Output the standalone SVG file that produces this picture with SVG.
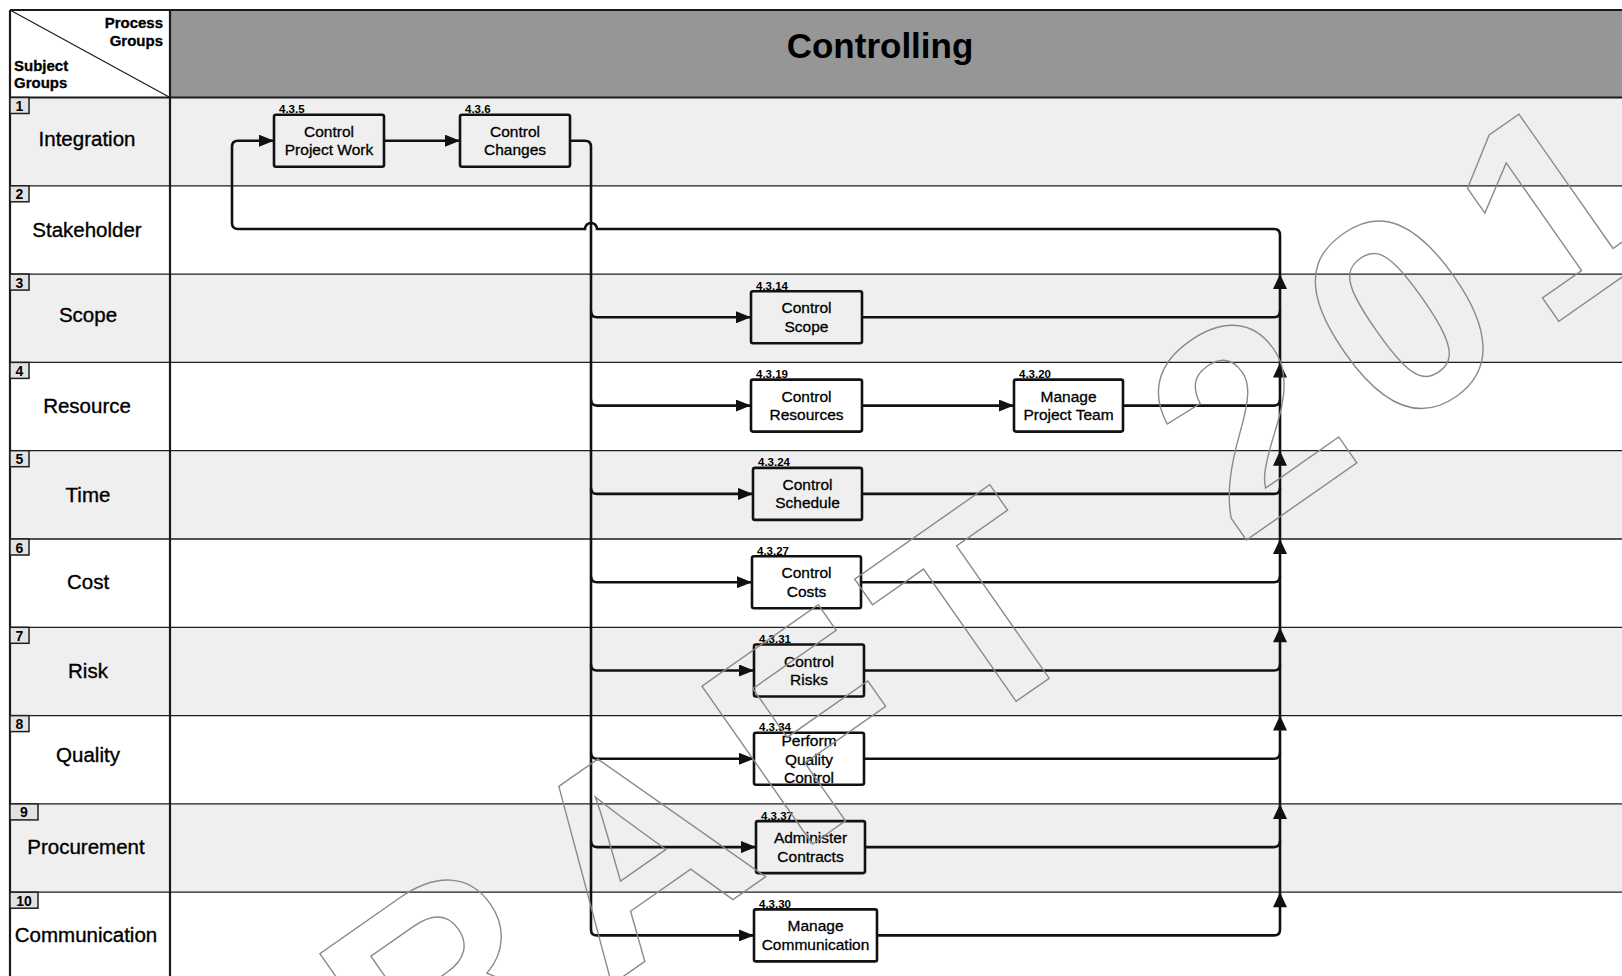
<svg xmlns="http://www.w3.org/2000/svg" width="1622" height="976" viewBox="0 0 1622 976">
<style>
.shade{fill:#efefef}
.grid{stroke:#1e1e1e;stroke-width:1.3;fill:none}
.frame{stroke:#1a1a1a;stroke-width:2.2;fill:none}
.rowlbl{font-family:"Liberation Sans",Arial,sans-serif;font-size:20.5px;fill:#000;stroke:#000;stroke-width:0.35;text-anchor:middle}
.numbox{fill:#e2e2e2;stroke:#1e1e1e;stroke-width:1.5}
.num{font-family:"Liberation Sans",Arial,sans-serif;font-size:14px;font-weight:bold;fill:#000;text-anchor:middle}
.hdr{font-family:"Liberation Sans",Arial,sans-serif;font-size:15px;font-weight:bold;fill:#000;stroke:#000;stroke-width:0.3}
.title{font-family:"Liberation Sans",Arial,sans-serif;font-size:35px;font-weight:bold;fill:#000;text-anchor:middle}
.box{fill:none;stroke:#111;stroke-width:2.6}
.btxt{font-family:"Liberation Sans",Arial,sans-serif;font-size:15.5px;fill:#000;stroke:#000;stroke-width:0.3;text-anchor:middle}
.bid{font-family:"Liberation Sans",Arial,sans-serif;font-size:11.5px;font-weight:bold;fill:#000}
.conn{fill:none;stroke:#111;stroke-width:2.6}
.wm{font-family:"Liberation Sans",Arial,sans-serif;font-size:280px;font-weight:bold;fill:none;stroke:#8a8a8a;stroke-width:1.4;letter-spacing:31px}
</style>
<defs>
<marker id="arr" markerWidth="15" markerHeight="12" refX="15" refY="6" orient="auto" markerUnits="userSpaceOnUse"><path d="M0,0 L15,6 L0,12 Z" fill="#111"/></marker>
<path id="up" d="M0,0 L-7,15 L7,15 Z" fill="#111"/>
</defs>
<rect width="1622" height="976" fill="#fff"/>
<g id="background">
<rect x="170" y="10" width="1452" height="87.5" fill="#969696"/>
<rect class="shade" x="10" y="97.5" width="1612" height="88.3"/>
<rect class="shade" x="10" y="274.1" width="1612" height="88.3"/>
<rect class="shade" x="10" y="450.7" width="1612" height="88.3"/>
<rect class="shade" x="10" y="627.3" width="1612" height="88.3"/>
<rect class="shade" x="10" y="803.9" width="1612" height="88.3"/>
<path class="grid" d="M10,185.8H1622M10,274.1H1622M10,362.4H1622M10,450.7H1622M10,539H1622M10,627.3H1622M10,715.6H1622M10,803.9H1622M10,892.2H1622"/>
<path class="grid" d="M10,10L170,97.5"/>
<path class="frame" d="M10,10H1622M10,97.5H1622M10,10V976M170,10V976"/>
</g>
<g id="header">
<text class="title" x="880" y="58">Controlling</text>
<text class="hdr" x="163" y="28" text-anchor="end">Process</text>
<text class="hdr" x="163" y="46" text-anchor="end">Groups</text>
<text class="hdr" x="14" y="71">Subject</text>
<text class="hdr" x="14" y="88">Groups</text>
</g>
<g id="row-labels">
<rect class="numbox" x="10" y="97.5" width="19" height="16"/><text class="num" x="19.5" y="111">1</text>
<text class="rowlbl" x="87" y="145.7">Integration</text>
<rect class="numbox" x="10" y="185.8" width="19" height="16"/><text class="num" x="19.5" y="199.3">2</text>
<text class="rowlbl" x="87" y="237">Stakeholder</text>
<rect class="numbox" x="10" y="274.1" width="19" height="16"/><text class="num" x="19.5" y="287.6">3</text>
<text class="rowlbl" x="88" y="322.3">Scope</text>
<rect class="numbox" x="10" y="362.4" width="19" height="16"/><text class="num" x="19.5" y="375.9">4</text>
<text class="rowlbl" x="87" y="412.6">Resource</text>
<rect class="numbox" x="10" y="450.7" width="19" height="16"/><text class="num" x="19.5" y="464.2">5</text>
<text class="rowlbl" x="88" y="501.9">Time</text>
<rect class="numbox" x="10" y="539" width="19" height="16"/><text class="num" x="19.5" y="552.5">6</text>
<text class="rowlbl" x="88" y="589.2">Cost</text>
<rect class="numbox" x="10" y="627.3" width="19" height="16"/><text class="num" x="19.5" y="640.8">7</text>
<text class="rowlbl" x="88" y="677.5">Risk</text>
<rect class="numbox" x="10" y="715.6" width="19" height="16"/><text class="num" x="19.5" y="729.1">8</text>
<text class="rowlbl" x="88" y="761.8">Quality</text>
<rect class="numbox" x="10" y="803.9" width="28" height="16"/><text class="num" x="24" y="817.4">9</text>
<text class="rowlbl" x="86" y="854">Procurement</text>
<rect class="numbox" x="10" y="892.2" width="28" height="16"/><text class="num" x="24" y="905.7">10</text>
<text class="rowlbl" x="86" y="942.4">Communication</text>
</g>
<g id="connectors">
<path class="conn" d="M384,140.7H460" marker-end="url(#arr)"/>
<path class="conn" d="M570,140.7H585Q591,140.7 591,146.7V929.4Q591,935.4 597,935.4H754" marker-end="url(#arr)"/>
<path class="conn" d="M591,311.3Q591,317.3 597,317.3H751" marker-end="url(#arr)"/>
<path class="conn" d="M591,399.6Q591,405.6 597,405.6H751" marker-end="url(#arr)"/>
<path class="conn" d="M591,487.9Q591,493.9 597,493.9H753" marker-end="url(#arr)"/>
<path class="conn" d="M591,576.2Q591,582.2 597,582.2H752" marker-end="url(#arr)"/>
<path class="conn" d="M591,664.5Q591,670.5 597,670.5H754" marker-end="url(#arr)"/>
<path class="conn" d="M591,752.8Q591,758.8 597,758.8H754" marker-end="url(#arr)"/>
<path class="conn" d="M591,841.1Q591,847.1 597,847.1H756" marker-end="url(#arr)"/>
<path class="conn" d="M862,405.6H1014" marker-end="url(#arr)"/>
<path class="conn" d="M877,935.4H1274Q1280,935.4 1280,929.4V235Q1280,229 1274,229H597A6,6 0 0 0 585,229H238Q232,229 232,223V146.7Q232,140.7 238,140.7H274" marker-end="url(#arr)"/>
<path class="conn" d="M862,317.3H1274Q1280,317.3 1280,311.3"/>
<path class="conn" d="M1123,405.6H1274Q1280,405.6 1280,399.6"/>
<path class="conn" d="M862,493.9H1274Q1280,493.9 1280,487.9"/>
<path class="conn" d="M861,582.2H1274Q1280,582.2 1280,576.2"/>
<path class="conn" d="M864,670.5H1274Q1280,670.5 1280,664.5"/>
<path class="conn" d="M864,758.8H1274Q1280,758.8 1280,752.8"/>
<path class="conn" d="M865,847.1H1274Q1280,847.1 1280,841.1"/>
<use href="#up" x="1280" y="274.1"/>
<use href="#up" x="1280" y="362.4"/>
<use href="#up" x="1280" y="450.7"/>
<use href="#up" x="1280" y="539"/>
<use href="#up" x="1280" y="627.3"/>
<use href="#up" x="1280" y="715.6"/>
<use href="#up" x="1280" y="803.9"/>
<use href="#up" x="1280" y="892.2"/>
</g>
<g id="n435">
<rect class="box" x="274" y="114.7" width="110" height="52" rx="2"/>
<text class="bid" x="279" y="113.2">4.3.5</text>
<text class="btxt" x="329" y="136.7">Control</text>
<text class="btxt" x="329" y="155.2">Project Work</text>
</g>
<g id="n436">
<rect class="box" x="460" y="114.7" width="110" height="52" rx="2"/>
<text class="bid" x="465" y="113.2">4.3.6</text>
<text class="btxt" x="515" y="136.7">Control</text>
<text class="btxt" x="515" y="155.2">Changes</text>
</g>
<g id="n4314">
<rect class="box" x="751" y="291.3" width="111" height="52" rx="2"/>
<text class="bid" x="756" y="289.8">4.3.14</text>
<text class="btxt" x="806.5" y="313.3">Control</text>
<text class="btxt" x="806.5" y="331.8">Scope</text>
</g>
<g id="n4319">
<rect class="box" x="751" y="379.6" width="111" height="52" rx="2"/>
<text class="bid" x="756" y="378.1">4.3.19</text>
<text class="btxt" x="806.5" y="401.6">Control</text>
<text class="btxt" x="806.5" y="420.1">Resources</text>
</g>
<g id="n4320">
<rect class="box" x="1014" y="379.6" width="109" height="52" rx="2"/>
<text class="bid" x="1019" y="378.1">4.3.20</text>
<text class="btxt" x="1068.5" y="401.6">Manage</text>
<text class="btxt" x="1068.5" y="420.1">Project Team</text>
</g>
<g id="n4324">
<rect class="box" x="753" y="467.9" width="109" height="52" rx="2"/>
<text class="bid" x="758" y="466.4">4.3.24</text>
<text class="btxt" x="807.5" y="489.9">Control</text>
<text class="btxt" x="807.5" y="508.4">Schedule</text>
</g>
<g id="n4327">
<rect class="box" x="752" y="556.2" width="109" height="52" rx="2"/>
<text class="bid" x="757" y="554.7">4.3.27</text>
<text class="btxt" x="806.5" y="578.2">Control</text>
<text class="btxt" x="806.5" y="596.7">Costs</text>
</g>
<g id="n4331">
<rect class="box" x="754" y="644.5" width="110" height="52" rx="2"/>
<text class="bid" x="759" y="643">4.3.31</text>
<text class="btxt" x="809" y="666.5">Control</text>
<text class="btxt" x="809" y="685">Risks</text>
</g>
<g id="n4334">
<rect class="box" x="754" y="732.8" width="110" height="52" rx="2"/>
<text class="bid" x="759" y="731.3">4.3.34</text>
<text class="btxt" x="809" y="746.3">Perform</text>
<text class="btxt" x="809" y="764.8">Quality</text>
<text class="btxt" x="809" y="783.3">Control</text>
</g>
<g id="n4337">
<rect class="box" x="756" y="821.1" width="109" height="52" rx="2"/>
<text class="bid" x="761" y="819.6">4.3.37</text>
<text class="btxt" x="810.5" y="843.1">Administer</text>
<text class="btxt" x="810.5" y="861.6">Contracts</text>
</g>
<g id="n4330">
<rect class="box" x="754" y="909.4" width="123" height="52" rx="2"/>
<text class="bid" x="759" y="907.9">4.3.30</text>
<text class="btxt" x="815.5" y="931.4">Manage</text>
<text class="btxt" x="815.5" y="949.9">Communication</text>
</g>
<g id="watermark">
<text class="wm" transform="translate(224,1256) rotate(-35)" x="0" y="0">DRAFT <tspan dx="26">201</tspan></text>
</g>
</svg>
